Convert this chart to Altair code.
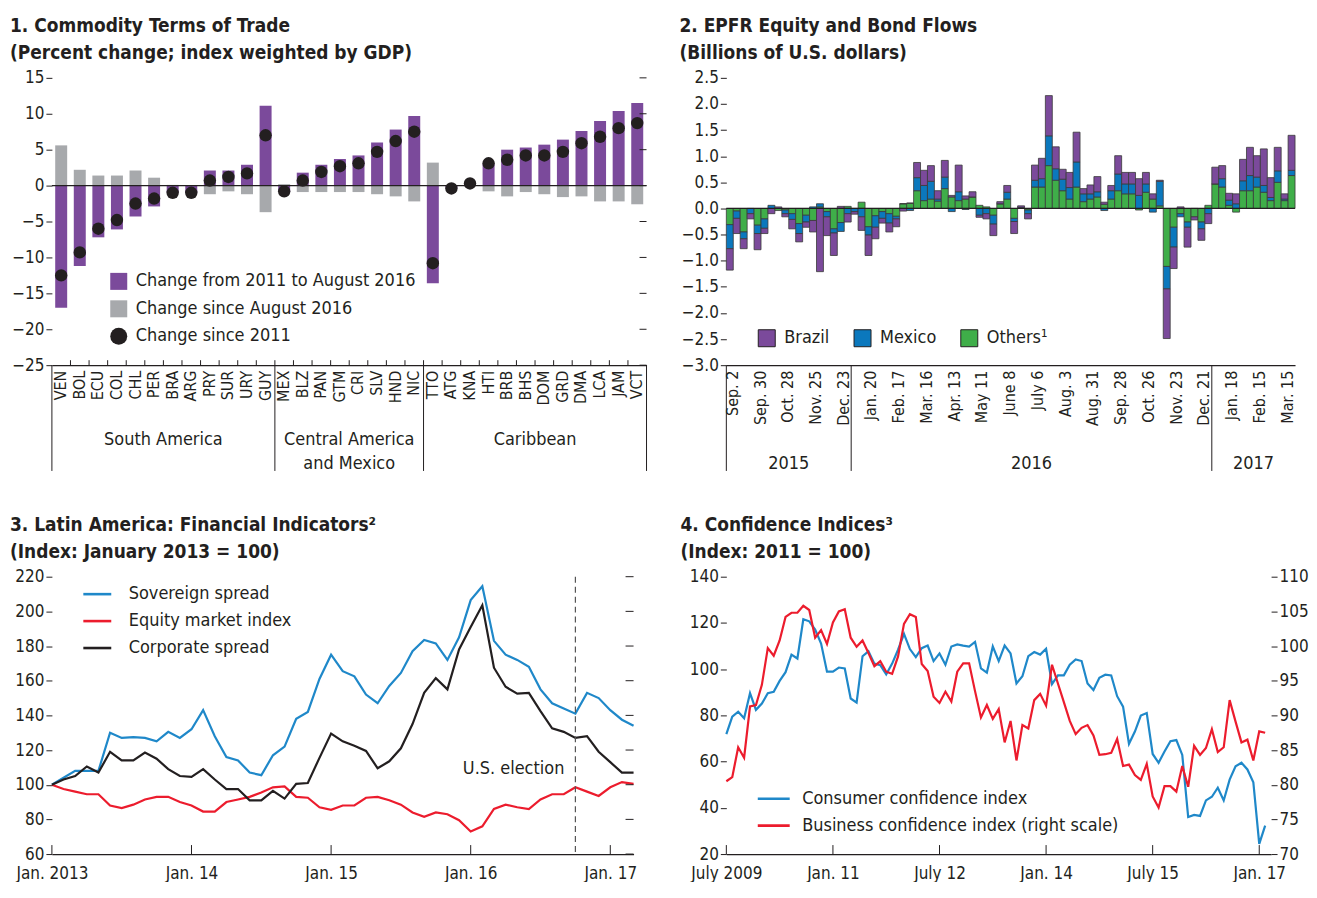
import altair as alt
import pandas as pd

FONT = "'Liberation Sans Narrow', 'Arial Narrow', 'DejaVu Sans Condensed', sans-serif"
INK = "#231f20"
PURPLE = "#7b4a9b"
GREY = "#a7a9ac"
BLUE = "#0b78bd"
GREEN = "#3fae49"
LBLUE = "#1f88c9"
RED = "#ec1c2d"

# ---------------- Panel 1 data ----------------
countries = ["VEN", "BOL", "ECU", "COL", "CHL", "PER", "BRA", "ARG", "PRY", "SUR", "URY", "GUY",
             "MEX", "BLZ", "PAN", "GTM", "CRI", "SLV", "HND", "NIC",
             "TTO", "ATG", "KNA", "HTI", "BRB", "BHS", "DOM", "GRD", "DMA", "LCA", "JAM", "VCT"]
group_names = ["South America", "Central America\nand Mexico", "Caribbean"]
group_first = ["VEN", "MEX", "TTO"]
group_mid = ["PER", "GTM", "BHS"]
chg_2011_aug2016 = [-17.0, -11.2, -7.2, -6.1, -4.3, -2.9, -1.0, -1.0, 2.1, 2.1, 2.9, 11.1,
                    -0.9, 1.8, 2.9, 3.7, 4.2, 6.0, 7.8, 9.7,
                    -13.6, -0.4, 0.3, 3.0, 5.0, 5.3, 5.7, 6.4, 7.6, 9.0, 10.4, 11.5]
chg_since_aug2016 = [5.6, 2.2, 1.4, 1.4, 2.1, 1.1, 0.1, 0.0, -1.2, -0.8, -1.2, -3.7,
                     0.2, -0.9, -0.9, -0.9, -0.9, -1.2, -1.5, -2.2,
                     3.2, 0.0, 0.0, -0.8, -1.5, -0.9, -1.2, -1.6, -1.5, -2.2, -2.2, -2.6]
chg_since_2011 = [-12.5, -9.3, -6.0, -4.8, -2.5, -1.8, -1.0, -1.0, 0.7, 1.2, 1.7, 7.0,
                  -0.8, 0.7, 1.9, 2.7, 3.1, 4.7, 6.2, 7.5,
                  -10.8, -0.4, 0.3, 3.1, 3.6, 4.2, 4.2, 4.7, 5.9, 6.8, 8.0, 8.7]
S1 = "Change from 2011 to August 2016"
S2 = "Change since August 2016"
S3 = "Change since 2011"
p1_ticks = [15, 10, 5, 0, -5, -10, -15, -20, -25]

# ---------------- Panel 2 data ----------------
brazil = [-0.41, -0.29, -0.19, -0.10, -0.31, -0.10, -0.10, 0.03, -0.06, -0.18,
          -0.16, -0.10, -0.22, -1.21, -0.36, -0.43, 0.04, -0.16, -0.05, -0.26,
          -0.39, -0.22, -0.09, -0.17, -0.15, -0.05, 0.0, 0.29, 0.29, 0.30,
          0.16, 0.32, 0.03, 0.51, 0.06, 0.10, -0.04, -0.10, -0.22, 0.04,
          0.13, -0.23, 0.03, -0.10, 0.29, 0.39, 0.77, 0.42, 0.19, 0.29,
          0.57, 0.10, 0.17, 0.29, 0.04, 0.10, 0.35, 0.22, 0.22, 0.32,
          0.22, 0.10, 0.02, -0.95, -0.41, 0.03, -0.38, -0.06, -0.22, -0.19,
          0.32, 0.25, 0.13, 0.19, 0.41, 0.54, 0.41, 0.70, 0.38, 0.45,
          0.10, 0.67]
mexico = [-0.46, -0.14, -0.13, -0.10, -0.16, -0.18, 0.06, 0.0, -0.07, -0.11,
          -0.19, -0.13, 0.03, 0.06, -0.10, -0.08, -0.17, -0.10, -0.06, -0.16,
          -0.16, -0.22, -0.13, -0.18, -0.05, 0.0, -0.04, 0.25, 0.29, 0.34,
          0.04, 0.22, -0.06, 0.17, -0.02, 0.0, -0.13, -0.10, -0.17, 0.0,
          0.13, -0.06, 0.02, -0.07, 0.13, 0.16, 0.57, 0.22, 0.22, 0.22,
          0.48, 0.15, 0.10, 0.10, -0.04, 0.16, 0.32, 0.19, 0.19, 0.25,
          0.16, -0.07, 0.47, -0.43, -0.38, -0.06, -0.10, 0.0, -0.13, -0.10,
          0.0, 0.16, 0.10, 0.09, 0.19, 0.29, 0.19, 0.13, 0.06, 0.22,
          0.03, 0.10]
others = [-0.31, -0.05, -0.45, 0.0, -0.32, -0.20, 0.0, -0.04, -0.03, -0.10,
          -0.29, -0.13, -0.23, 0.03, -0.06, -0.39, -0.27, 0.04, 0.0, 0.12,
          -0.35, -0.14, -0.06, -0.10, -0.15, 0.09, 0.10, 0.34, 0.15, 0.18,
          0.14, 0.38, 0.22, 0.15, 0.18, 0.22, 0.06, 0.03, -0.13, 0.09,
          0.18, -0.19, 0.0, -0.03, 0.41, 0.41, 0.82, 0.54, 0.34, 0.18,
          0.41, 0.13, 0.18, 0.22, 0.08, 0.18, 0.34, 0.28, 0.28, -0.03,
          0.31, 0.18, 0.05, -1.11, -0.36, -0.10, -0.26, -0.16, -0.26, 0.06,
          0.47, 0.41, 0.06, -0.07, 0.34, 0.34, 0.41, 0.31, 0.15, 0.50,
          0.15, 0.63]
flow_series = ["Brazil", "Mexico", "Others\u00b9"]
week_tick_labels = ["Sep. 2", "Sep. 30", "Oct. 28", "Nov. 25", "Dec. 23", "Jan. 20", "Feb. 17",
                    "Mar. 16", "Apr. 13", "May 11", "June 8", "July 6", "Aug. 3", "Aug. 31",
                    "Sep. 28", "Oct. 26", "Nov. 23", "Dec. 21", "Jan. 18", "Feb. 15", "Mar. 15"]
year_names = ["2015", "2016", "2017"]
year_first_week = [0, 18, 70]
year_mid_week = [8, 43, 75]
p2_ticks = [2.5, 2.0, 1.5, 1.0, 0.5, 0.0, -0.5, -1.0, -1.5, -2.0, -2.5, -3.0]

# ---------------- Panel 3 data (monthly, Jan 2013 - Mar 2017) ----------------
sovereign = [100, 104, 108, 108, 108, 130, 127, 127.5, 127, 125, 130.5, 127, 132, 143, 128,
             116, 114, 107, 105.5, 117, 122, 138, 142, 161, 175, 165.5, 162.5, 152, 147, 157,
             164.5, 177, 183.5, 181.5, 172, 185, 206.5, 214.5, 183, 175, 172, 168, 155, 147,
             144, 141, 153, 150, 143, 137.5, 134]
equity = [100, 97.5, 96, 94.5, 94.5, 88, 86.5, 88.5, 91.5, 93, 93, 90, 88, 84.5, 84.5,
          90, 91.5, 93, 95.5, 98.5, 99, 93, 92.5, 87, 85.5, 88, 88, 92.5, 93, 91,
          88.5, 84, 81.5, 84, 83, 79.5, 73, 76, 86, 88.5, 87, 86, 91.5, 94.5,
          94.5, 98.5, 96, 93.5, 98.5, 101.5, 100.5]
corporate = [100, 103, 105, 110.5, 107, 119, 114, 114, 118.5, 115, 109, 105, 104.5, 109, 103,
             97.5, 97.5, 91, 91, 96.5, 92, 100.5, 101, 115.5, 129.5, 125, 122.5, 119.5, 109.5,
             113.5, 121, 135, 153, 161.5, 155, 178, 191, 203.5, 167.5, 156.5, 152.5, 153,
             142.5, 132.5, 130.5, 127, 128, 119, 113, 107, 107]
fin_series = ["Sovereign spread", "Equity market index", "Corporate spread"]
p3_xticks = [0, 12, 24, 36, 48]
p3_xlabels = ["Jan. 2013", "Jan. 14", "Jan. 15", "Jan. 16", "Jan. 17"]
election_month = [45]
p3_ticks = [60, 80, 100, 120, 140, 160, 180, 200, 220]

# ---------------- Panel 4 data (monthly, July 2009 - Feb 2017) ----------------
consumer = [71.9, 79.5, 81.6, 78.8, 89.6, 82.4, 85.1, 89.6, 90.2, 94.9, 98.7, 106.3, 104.6,
            121.6, 120.7, 117.1, 111.1, 98.9, 98.9, 100.7, 100.3, 87.3, 85.5, 105.6, 107.7,
            102.4, 101.7, 97.7, 102.4, 108.4, 115.3, 108.7, 105.2, 109.1, 110.2, 103.5, 106.8,
            101.9, 109.8, 110.7, 110.2, 109.8, 111.8, 100.3, 98.5, 109.8, 103.5, 110.2, 106.8,
            93.8, 96.9, 105.6, 107.4, 106.3, 108.8, 93.5, 97.3, 97.3, 101.9, 104.2, 103.5,
            93.8, 91.0, 96.3, 97.6, 97.3, 88.3, 83.8, 67.7, 73.0, 79.9, 81.0, 63.3, 59.5,
            64.4, 68.8, 69.3, 62.9, 36.0, 36.9, 36.5, 43.2, 44.8, 48.7, 43.2, 52.2, 58.0,
            59.5, 56.6, 51.1, 24.4, 32.3]
business = [80.5, 81.1, 85.4, 83.9, 91.3, 91.5, 94.4, 99.7, 98.6, 100.8, 104.2, 104.8, 104.8,
            105.8, 105.2, 101.2, 102.3, 100.3, 103.4, 105.0, 105.3, 101.2, 99.9, 100.8, 99.0,
            97.1, 97.8, 96.3, 96.0, 98.5, 103.2, 104.6, 104.2, 97.4, 96.4, 92.7, 91.8, 93.4,
            92.0, 96.3, 97.5, 97.5, 93.5, 89.7, 91.5, 89.5, 90.9, 86.1, 89.2, 83.5, 88.6,
            88.1, 92.2, 93.1, 91.4, 97.3, 94.6, 91.9, 89.2, 87.3, 88.2, 88.6, 87.1, 84.3,
            84.4, 84.6, 86.6, 82.7, 82.9, 81.4, 80.7, 83.0, 78.3, 76.7, 79.8, 79.8, 79.0,
            82.7, 79.7, 85.6, 84.3, 85.3, 88.0, 84.7, 85.4, 92.2, 89.1, 86.1, 86.5, 83.5,
            87.7, 87.5]
conf_series = ["Consumer confidence index", "Business confidence index (right scale)"]
p4_xticks = [0, 18, 36, 54, 72, 90]
p4_xlabels = ["July 2009", "Jan. 11", "July 12", "Jan. 14", "July 15", "Jan. 17"]
p4_left_ticks = [20, 40, 60, 80, 100, 120, 140]
p4_right_ticks = [70, 75, 80, 85, 90, 95, 100, 105, 110]


def label_expr(labels, step):
    arr = ",".join("'" + l + "'" for l in labels)
    return "[" + arr + "][round(datum.value / " + str(step) + ")]"


def ptitle(lines, dx):
    return alt.TitleParams(text=lines, anchor="start", frame="group", dx=dx, offset=6,
                           font=FONT, fontSize=19, fontWeight="bold", color=INK, lineHeight=27)


NB = "\u00a0" * 5

# ================= Panel 1 =================
W1, H1 = 596, 288
xs1 = alt.Scale(domain=countries, paddingInner=0, paddingOuter=0)
ys1 = alt.Scale(domain=[-25, 15], nice=False)
ax1x = alt.Axis(title=None, labelAngle=-90, ticks=False, domain=True, domainColor=INK,
                domainWidth=1.2, labelPadding=5, labelFontSize=16)
ax1y = alt.Axis(title=None, values=p1_ticks, tickSize=6, domain=False, labelPadding=2)
cs1 = alt.Scale(domain=[S1, S2, S3], range=[PURPLE, GREY, INK])
ss1 = alt.Scale(domain=[S1, S2, S3], range=["square", "square", "circle"])
leg1 = alt.Legend(title=None, orient="none", legendX=58, legendY=195, symbolSize=290,
                  labelFontSize=18, rowPadding=9.5, labelOffset=8, symbolStrokeWidth=0,
                  labelLimit=400)

p1_bars = pd.DataFrame({"cat": countries * 2,
                        "s": [S1] * len(countries) + [S2] * len(countries),
                        "v": chg_2011_aug2016 + chg_since_aug2016})
p1_dots = pd.DataFrame({"cat": countries, "s": S3, "v": chg_since_2011})

bars1 = alt.Chart(p1_bars).mark_bar(size=12).encode(
    x=alt.X("cat:N", scale=xs1, axis=ax1x),
    y=alt.Y("v:Q", scale=ys1, stack=None, axis=ax1y),
    color=alt.Color("s:N", scale=cs1, legend=leg1),
)
zero1 = alt.Chart(pd.DataFrame({"v": [0]})).mark_rule(color=INK, strokeWidth=1.2).encode(
    y=alt.Y("v:Q", scale=ys1, axis=ax1y))
upt1 = alt.Chart(pd.DataFrame({"cat": countries[1:]})).mark_rule(color=INK).encode(
    x=alt.X("cat:N", scale=xs1, axis=ax1x, bandPosition=0),
    y=alt.value(H1), y2=alt.value(H1 - 5))
rt1 = alt.Chart(pd.DataFrame({"v": p1_ticks})).mark_rule(color=INK).encode(
    y=alt.Y("v:Q", scale=ys1, axis=ax1y), x=alt.value(W1 - 7), x2=alt.value(W1))
sep1 = alt.Chart(pd.DataFrame({"cat": group_first})).mark_rule(color=INK).encode(
    x=alt.X("cat:N", scale=xs1, axis=ax1x, bandPosition=0),
    y=alt.value(H1), y2=alt.value(H1 + 106))
sep1b = alt.Chart(pd.DataFrame({"cat": [countries[-1]]})).mark_rule(color=INK).encode(
    x=alt.X("cat:N", scale=xs1, axis=ax1x, bandPosition=1),
    y=alt.value(H1), y2=alt.value(H1 + 106))
glab1 = alt.Chart(pd.DataFrame({"cat": group_mid, "g": group_names})).mark_text(
    font=FONT, fontSize=18, baseline="top", lineBreak="\n", color=INK, lineHeight=24).encode(
    x=alt.X("cat:N", scale=xs1, axis=ax1x, bandPosition=1),
    y=alt.value(H1 + 66), text="g:N")
dots1 = alt.Chart(p1_dots).mark_point(filled=True, size=155, opacity=1).encode(
    x=alt.X("cat:N", scale=xs1, axis=ax1x),
    y=alt.Y("v:Q", scale=ys1, axis=ax1y),
    color=alt.Color("s:N", scale=cs1, legend=leg1),
    shape=alt.Shape("s:N", scale=ss1, legend=leg1),
)
p1 = alt.layer(bars1, zero1, upt1, rt1, sep1, sep1b, glab1, dots1).properties(
    width=W1, height=H1,
    title=ptitle(["1. Commodity Terms of Trade", NB + "(Percent change; index weighted by GDP)"], -42))

# ================= Panel 2 =================
W2, H2 = 570, 288
nweeks = len(brazil)
rows = []
for k in range(nweeks):
    for s, arr, o in [(flow_series[2], others, 0), (flow_series[1], mexico, 1), (flow_series[0], brazil, 2)]:
        rows.append({"k": k, "s": s, "v": arr[k], "ord": o})
p2_long = pd.DataFrame(rows)
xs2 = alt.Scale(domain=list(range(nweeks)), paddingInner=0, paddingOuter=0)
ys2 = alt.Scale(domain=[-3, 2.5], nice=False)
ax2x = alt.Axis(title=None, values=list(range(0, nweeks, 4)),
                labelExpr=label_expr(week_tick_labels, 4), labelAngle=-90, ticks=False,
                domainColor=INK, domainWidth=1.2, labelPadding=5, labelFontSize=16, labelOffset=3)
ax2y = alt.Axis(title=None, values=p2_ticks, format=".1f", tickSize=6, domain=False, labelPadding=2)
bars2 = alt.Chart(p2_long).mark_bar(stroke="#3a3a3a", strokeWidth=0.8).encode(
    x=alt.X("k:O", scale=xs2, axis=ax2x),
    y=alt.Y("v:Q", scale=ys2, stack="zero", axis=ax2y),
    color=alt.Color("s:N", scale=alt.Scale(domain=flow_series, range=[PURPLE, BLUE, GREEN]),
                    legend=alt.Legend(title=None, orient="none", direction="horizontal",
                                      legendX=31, legendY=251, symbolSize=290,
                                      symbolStrokeColor=INK, symbolStrokeWidth=1,
                                      columnPadding=21, labelOffset=8, labelFontSize=18,
                                      labelLimit=400)),
    order=alt.Order("ord:Q"),
)
zero2 = alt.Chart(pd.DataFrame({"v": [0]})).mark_rule(color=INK, strokeWidth=1.2).encode(
    y=alt.Y("v:Q", scale=ys2, axis=ax2y))
sep2 = alt.Chart(pd.DataFrame({"k": year_first_week})).mark_rule(color=INK).encode(
    x=alt.X("k:O", scale=xs2, axis=ax2x, bandPosition=0),
    y=alt.value(H2), y2=alt.value(H2 + 106))
ylab2 = alt.Chart(pd.DataFrame({"k": year_mid_week, "t": year_names})).mark_text(
    font=FONT, fontSize=18, baseline="middle", color=INK).encode(
    x=alt.X("k:O", scale=xs2, axis=ax2x, bandPosition=1),
    y=alt.value(H2 + 99), text="t:N")
p2 = alt.layer(bars2, zero2, sep2, ylab2).properties(
    width=W2, height=H2,
    title=ptitle(["2. EPFR Equity and Bond Flows", NB + "(Billions of U.S. dollars)"], -47))

# ================= Panel 3 =================
W3, H3 = 583, 278
n3 = len(sovereign)
p3_long = pd.DataFrame({
    "m": list(range(n3)) * 3,
    "s": [fin_series[0]] * n3 + [fin_series[1]] * n3 + [fin_series[2]] * n3,
    "v": sovereign + equity + corporate,
})
xs3 = alt.Scale(domain=[0, 50], nice=False)
ys3 = alt.Scale(domain=[60, 220], nice=False)
ax3x = alt.Axis(title=None, values=p3_xticks, labelExpr=label_expr(p3_xlabels, 12),
                ticks=False, labelFlush=False, domainColor=INK, domainWidth=1.2, labelPadding=11)
ax3y = alt.Axis(title=None, values=p3_ticks, tickSize=6, domain=False, labelPadding=2)
lines3 = alt.Chart(p3_long).mark_line(strokeWidth=2.2).encode(
    x=alt.X("m:Q", scale=xs3, axis=ax3x),
    y=alt.Y("v:Q", scale=ys3, axis=ax3y),
    color=alt.Color("s:N", scale=alt.Scale(domain=fin_series, range=[LBLUE, RED, INK]),
                    legend=alt.Legend(title=None, orient="none", legendX=30, legendY=2,
                                      symbolType="stroke", symbolSize=784, symbolStrokeWidth=2.6,
                                      labelOffset=16, rowPadding=2, labelFontSize=18,
                                      labelLimit=400)),
    detail="s:N",
)
elec = alt.Chart(pd.DataFrame({"m": election_month})).mark_rule(
    color="#555555", strokeDash=[6, 4], strokeWidth=1.2).encode(
    x=alt.X("m:Q", scale=xs3, axis=ax3x), y=alt.value(0), y2=alt.value(H3))
elec_t = alt.Chart(pd.DataFrame({"m": election_month, "t": ["U.S. election"], "v": [109]})).mark_text(
    font=FONT, fontSize=18, align="right", baseline="middle", dx=-11, color=INK).encode(
    x=alt.X("m:Q", scale=xs3, axis=ax3x), y=alt.Y("v:Q", scale=ys3, axis=ax3y), text="t:N")
upt3 = alt.Chart(pd.DataFrame({"m": p3_xticks})).mark_rule(color=INK).encode(
    x=alt.X("m:Q", scale=xs3, axis=ax3x), y=alt.value(H3), y2=alt.value(H3 - 9))
rt3 = alt.Chart(pd.DataFrame({"v": p3_ticks})).mark_rule(color=INK).encode(
    y=alt.Y("v:Q", scale=ys3, axis=ax3y), x=alt.value(W3 - 8), x2=alt.value(W3))
p3 = alt.layer(lines3, elec, elec_t, upt3, rt3).properties(
    width=W3, height=H3,
    title=ptitle(["3. Latin America: Financial Indicators\u00b2", NB + "(Index: January 2013 = 100)"], -42))

# ================= Panel 4 =================
W4, H4 = 546, 278
n4 = len(consumer)
xs4 = alt.Scale(domain=[0, 92], nice=False)
cs4 = alt.Scale(domain=conf_series, range=[LBLUE, RED])
ax4x = alt.Axis(title=None, values=p4_xticks, labelExpr=label_expr(p4_xlabels, 18),
                ticks=False, labelFlush=False, domainColor=INK, domainWidth=1.2, labelPadding=11)
ax4yl = alt.Axis(title=None, values=p4_left_ticks, tickSize=6, domain=False, labelPadding=2)
ax4yr = alt.Axis(title=None, orient="right", values=p4_right_ticks, tickSize=6, domain=False,
                 labelPadding=2)
leg4 = alt.Legend(title=None, orient="none", legendX=30, legendY=205, symbolType="stroke",
                  symbolSize=1024, symbolStrokeWidth=2.6, labelOffset=11, rowPadding=-3,
                  labelFontSize=18, labelLimit=400)
cons_df = pd.DataFrame({"m": list(range(n4)), "v": consumer, "s": conf_series[0]})
bus_df = pd.DataFrame({"m": list(range(len(business))), "v": business, "s": conf_series[1]})
cons_line = alt.Chart(cons_df).mark_line(strokeWidth=2.2).encode(
    x=alt.X("m:Q", scale=xs4, axis=ax4x),
    y=alt.Y("v:Q", scale=alt.Scale(domain=[20, 140], nice=False), axis=ax4yl),
    color=alt.Color("s:N", scale=cs4, legend=leg4),
)
upt4 = alt.Chart(pd.DataFrame({"m": p4_xticks})).mark_rule(color=INK).encode(
    x=alt.X("m:Q", scale=xs4, axis=ax4x), y=alt.value(H4), y2=alt.value(H4 - 9))
bus_line = alt.Chart(bus_df).mark_line(strokeWidth=2.2).encode(
    x=alt.X("m:Q", scale=xs4, axis=ax4x),
    y=alt.Y("v:Q", scale=alt.Scale(domain=[70, 110], nice=False), axis=ax4yr),
    color=alt.Color("s:N", scale=cs4, legend=leg4),
)
p4 = alt.layer(cons_line, upt4, bus_line).resolve_scale(y="independent").properties(
    width=W4, height=H4,
    title=ptitle(["4. Confidence Indices\u00b3", NB + "(Index: 2011 = 100)"], -46))

# ================= Layout =================
chart = alt.concat(
    p1, p2, p3, p4, columns=2, spacing={"row": 212, "column": 80}, bounds="flush",
    align={"row": "all", "column": "none"}
).resolve_scale(
    color="independent", shape="independent"
).properties(
    padding={"left": 2, "top": 8, "right": 0, "bottom": 0}
).configure_axis(
    labelFont=FONT, labelFontSize=17, labelColor=INK, tickColor=INK, domainColor=INK,
    grid=False, tickWidth=1
).configure_legend(
    labelFont=FONT, labelFontSize=18, labelColor=INK
).configure_text(font=FONT).configure_view(stroke=None)

chart.save("out.html", embed_options={"renderer": "svg", "actions": False})
